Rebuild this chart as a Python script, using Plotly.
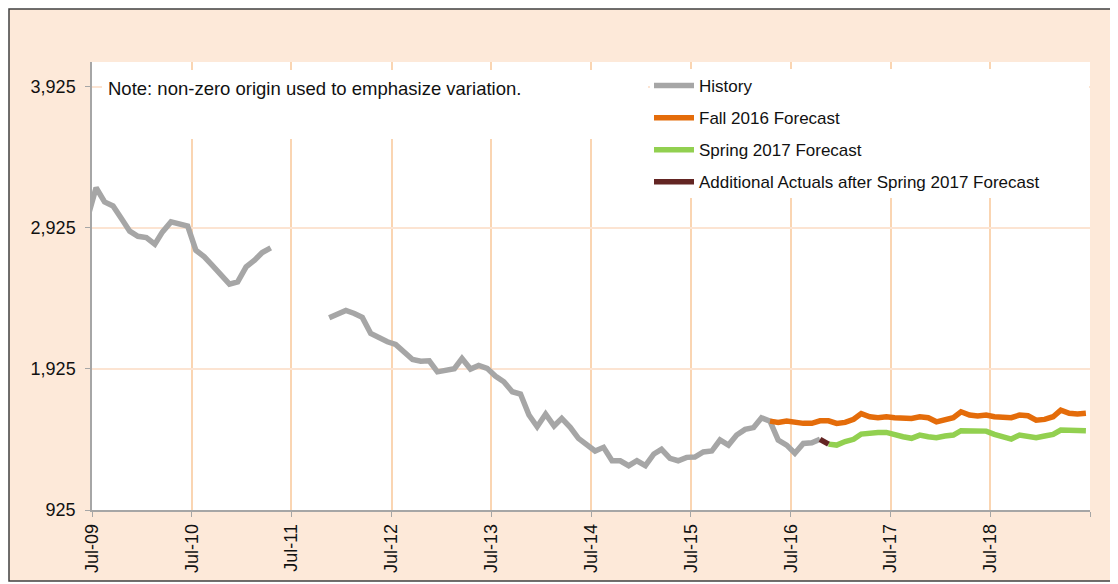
import pandas as pd
import plotly.graph_objects as go

# monthly values, plotted mid-month (Excel date axis, "between tick marks")
history_start = "2009-06-01"
history = [3005, 3209, 3108, 3080, 2993, 2901, 2865, 2856, 2809, 2896, 2967, 2953,
           2938, 2766, 2719, 2655, 2594, 2526, 2542, 2648, 2696, 2750, 2783,
           None, None, None, None, None, None,
           2287, 2313, 2339, 2318, 2290, 2176, 2145, 2117, 2098, 2042, 1992, 1980,
           1982, 1904, 1916, 1926, 1999, 1924, 1950, 1929, 1874, 1834, 1763, 1747,
           1598, 1515, 1605, 1520, 1574, 1511, 1433, 1392, 1343, 1369, 1274, 1274,
           1239, 1274, 1239, 1322, 1355, 1291, 1274, 1298, 1300, 1336, 1343, 1421,
           1385, 1456, 1496, 1509, 1578, 1554, 1421, 1385, 1327, 1397, 1402, 1426]

fall_2016_start = "2016-04-01"
fall_2016 = [1555, 1546, 1556, 1545, 1539, 1539, 1557, 1557, 1539, 1546, 1568, 1608,
             1586, 1579, 1586, 1579, 1574, 1574, 1586, 1579, 1550, 1562, 1579, 1621,
             1598, 1591, 1598, 1586, 1586, 1579, 1598, 1593, 1562, 1567, 1586, 1633,
             1610, 1605, 1610]

spring_2017_start = "2016-11-01"
spring_2017 = [1392, 1385, 1410, 1426, 1463, 1472, 1475, 1475, 1456, 1444, 1433, 1456,
               1444, 1437, 1449, 1456, 1487, 1487, 1487, 1484, 1461, 1444, 1428, 1456,
               1449, 1437, 1449, 1461, 1492, 1492, 1492, 1487]

actuals_start = "2016-10-01"
additional_actuals = [1426, 1392]

y_ticks = [925, 1925, 2925, 3925]
x_ticks = ["2009-07-01", "2010-07-01", "2011-07-01", "2012-07-01", "2013-07-01",
           "2014-07-01", "2015-07-01", "2016-07-01", "2017-07-01", "2018-07-01",
           "2019-07-01"]
x_tick_labels = ["Jul-09", "Jul-10", "Jul-11", "Jul-12", "Jul-13", "Jul-14",
                 "Jul-15", "Jul-16", "Jul-17", "Jul-18", ""]


def months(start, values):
    return pd.date_range(start, periods=len(values), freq="MS") + pd.Timedelta(days=15)


FONT = "Liberation Sans, Arial, sans-serif"

fig = go.Figure()
series = [
    ("History", history_start, history, "#A6A6A6"),
    ("Fall 2016 Forecast", fall_2016_start, fall_2016, "#E46C0A"),
    ("Spring 2017 Forecast", spring_2017_start, spring_2017, "#92D050"),
    ("Additional Actuals after Spring 2017 Forecast", actuals_start, additional_actuals, "#632523"),
]
for name, start, vals, color in series:
    fig.add_trace(go.Scatter(
        x=months(start, vals), y=vals, name=name, mode="lines", legendgroup=name,
        line=dict(color=color, width=5.5), connectgaps=False,
    ))


# positions measured on the reference image -> paper coords (plot area x 92..1090, y 62..510)
def px(x):
    return (x - 92) / 998


def py(y):
    return (510 - y) / 448


# page body has an 8px margin, so the figure is 8px smaller and offset
fig.update_layout(
    width=1110, height=576,
    margin=dict(l=84, r=28, t=54, b=74),
    paper_bgcolor="white", plot_bgcolor="rgba(0,0,0,0)",
    font=dict(family=FONT, size=18, color="#111111"),
    showlegend=True,
    legend=dict(x=px(649), y=py(68), xanchor="left", yanchor="top",
                bgcolor="rgba(0,0,0,0)", font=dict(size=17),
                traceorder="grouped", tracegroupgap=7, itemwidth=40),
    shapes=[
        dict(type="rect", xref="paper", yref="paper", layer="below",
             x0=px(9), x1=px(1112), y0=py(581), y1=py(9),
             fillcolor="#FDE9D9", line=dict(color="#404040", width=1.5)),
        dict(type="rect", xref="paper", yref="paper", layer="below",
             x0=0, x1=1, y0=0, y1=1, fillcolor="white", line=dict(width=0)),
        dict(type="rect", xref="paper", yref="paper", layer="above",
             x0=px(102), x1=px(648), y0=py(139), y1=py(70),
             fillcolor="white", line=dict(width=0)),
        dict(type="rect", xref="paper", yref="paper", layer="above",
             x0=px(650), x1=px(1089), y0=py(198), y1=py(69),
             fillcolor="white", line=dict(width=0)),
    ],
    annotations=[
        dict(xref="paper", yref="paper", x=px(106), y=py(88), xanchor="left",
             yanchor="middle", showarrow=False,
             text="Note: non-zero origin used to emphasize variation.",
             font=dict(size=18.5)),
    ],
)

fig.update_xaxes(
    range=["2009-07-01", "2019-07-01"], tickmode="array",
    tickvals=x_ticks, ticktext=x_tick_labels, tickangle=-90,
    showgrid=True, gridcolor="#FAD5B2", gridwidth=2,
    showline=True, linecolor="#A6A6A6", linewidth=1.5,
    ticks="outside", ticklen=5, tickcolor="#A6A6A6",
    tickfont=dict(size=18), zeroline=False,
)
fig.update_yaxes(
    range=[925, 4100], tickmode="array", tickvals=y_ticks, tickformat=",",
    showgrid=True, gridcolor="#FCE4D2", gridwidth=2,
    showline=True, linecolor="#A6A6A6", linewidth=1.5,
    ticks="outside", ticklen=5, tickcolor="#A6A6A6", ticklabelstandoff=6,
    tickfont=dict(size=18), zeroline=False,
)

fig.write_html("out.html")
